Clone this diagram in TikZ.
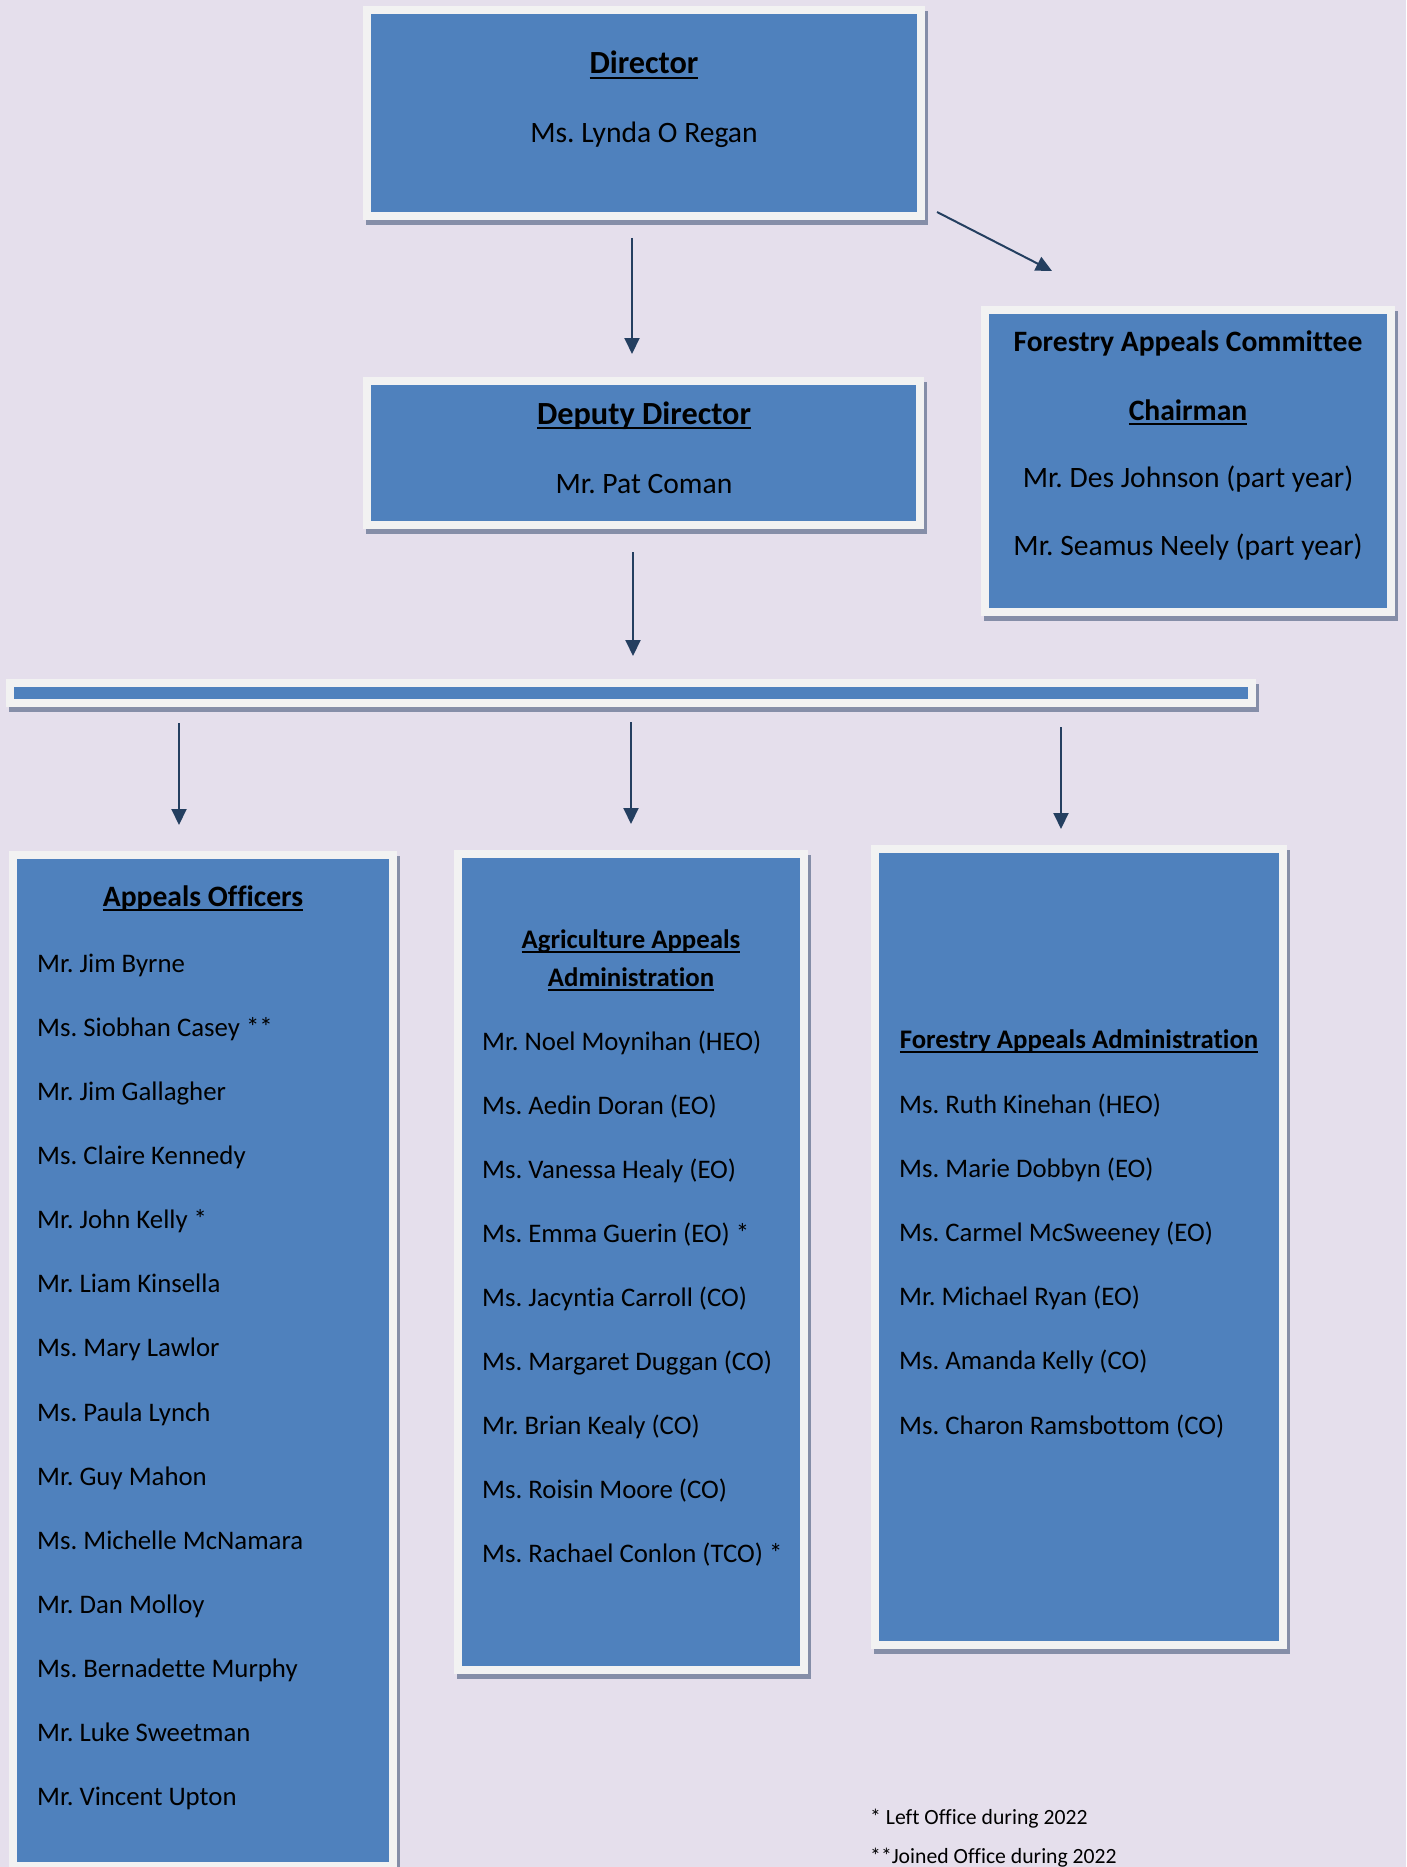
\documentclass[tikz,border=0pt]{standalone}
\usepackage{fontspec}
\setmainfont{Carlito}[Ligatures=NoCommon]
\usepackage{xcolor}
\definecolor{cPage}{HTML}{E5DFEC}
\definecolor{cBox}{HTML}{4F81BD}
\definecolor{cFrame}{HTML}{F2F2F2}
\definecolor{cShadow}{HTML}{858EA8}
\definecolor{cArrow}{HTML}{243F60}
\usetikzlibrary{positioning,arrows.meta,calc,backgrounds}
\newcommand\ulined[1]{\sbox0{#1}\rlap{\rule[-5pt]{\wd0}{2pt}}\usebox0}
\newcommand\orgfont{\fontsize{29.6}{35}\selectfont\frenchspacing}
\newcommand\toporgfont{\fontsize{32.3}{38}\selectfont\frenchspacing}
\newcommand\listfont{\fontsize{26.8}{32}\selectfont\frenchspacing}
\tikzset{
  org-box/.style={fill=cBox,draw=cFrame,line width=8pt,outer sep=4pt,
    inner sep=0pt,anchor=north west},
  org-head/.style={font=\orgfont\bfseries,anchor=base,inner sep=0pt},
  org-head-top/.style={org-head,font=\toporgfont\bfseries},
  org-head-list/.style={org-head,font=\listfont\bfseries},
  org-text/.style={anchor=base,inner sep=0pt},
  org-name/.style={anchor=base west,inner sep=0pt,font=\listfont},
  org-note/.style={anchor=base west,inner sep=0pt,
    font=\fontsize{21.7}{26}\selectfont\frenchspacing},
  arrow/.style={-{Triangle[length=16pt,width=15pt]},line width=2pt,draw=cArrow},
}

\begin{document}
\begin{tikzpicture}[x=1pt,y=-1pt,font=\orgfont]
  \useasboundingbox (0,0) rectangle (1406,1867);
  \begin{scope}[on background layer]
    \fill[cPage] (0,0) rectangle (1406,1867);
  \end{scope}

  % top row
  \node[org-box,minimum width=554pt,minimum height=206pt] (director) at (363,6) {};
  \node[org-head-top] (director-t) at (644,74) {\ulined{Director}};
  \node[org-text] (director-n) at (644,143) {Ms. Lynda O Regan};

  \node[org-box,minimum width=553pt,minimum height=144pt] (deputy) at (363,377) {};
  \node[org-head-top] (deputy-t) at (644,424) {\ulined{Deputy Director}};
  \node[org-text] (deputy-n) at (644,493) {Mr. Pat Coman};

  \node[org-box,minimum width=406pt,minimum height=302pt] (fac) at (981,306) {};
  \node[org-head] (fac-t) at (1188,352) {Forestry Appeals Committee};
  \node[org-head] (fac-c) at (1188,420) {\ulined{Chairman}};
  \node[org-text] (fac-n1) at (1188,487) {Mr. Des Johnson (part year)};
  \node[org-text] (fac-n2) at (1188,555) {Mr. Seamus Neely (part year)};

  \node[org-box,minimum width=1242pt,minimum height=20pt] (bar) at (6,679) {};

  % bottom row
  \node[org-box,minimum width=380pt,minimum height=1011pt] (ao) at (9,851) {};
  \node[org-head] (ao-t) at (203,906) {\ulined{Appeals Officers}};
  \foreach \who [count=\i from 0] in {Mr. Jim Byrne,Ms. Siobhan Casey **,
      Mr. Jim Gallagher,Ms. Claire Kennedy,Mr. John Kelly *,Mr. Liam Kinsella,
      Ms. Mary Lawlor,Ms. Paula Lynch,Mr. Guy Mahon,Ms. Michelle McNamara,
      Mr. Dan Molloy,Ms. Bernadette Murphy,Mr. Luke Sweetman,Mr. Vincent Upton}
    \node[org-name] (ao-\i) at (37,972+64.15*\i) {\who};

  \node[org-box,minimum width=346pt,minimum height=816pt] (aaa) at (454,850) {};
  \node[org-head-list] (aaa-t1) at (631,948) {\ulined{Agriculture Appeals}};
  \node[org-head-list] (aaa-t2) at (631,986) {\ulined{Administration}};
  \foreach \who [count=\i from 0] in {Mr. Noel Moynihan (HEO),Ms. Aedin Doran (EO),
      Ms. Vanessa Healy (EO),Ms. Emma Guerin (EO) *,Ms. Jacyntia Carroll (CO),
      Ms. Margaret Duggan (CO),Mr. Brian Kealy (CO),Ms. Roisin Moore (CO),
      Ms. Rachael Conlon (TCO) *}
    \node[org-name] (aaa-\i) at (482,1050+64.1*\i) {\who};

  \node[org-box,minimum width=408pt,minimum height=796pt] (faa) at (871,845) {};
  \node[org-head-list] (faa-t) at (1079,1048) {\ulined{Forestry Appeals Administration}};
  \foreach \who [count=\i from 0] in {Ms. Ruth Kinehan (HEO),Ms. Marie Dobbyn (EO),
      Ms. Carmel McSweeney (EO),Mr. Michael Ryan (EO),Ms. Amanda Kelly (CO),
      Ms. Charon Ramsbottom (CO)}
    \node[org-name] (faa-\i) at (899,1113+64.2*\i) {\who};

  \node[org-note] (note1) at (870,1824) {* Left Office during 2022};
  \node[org-note] (note2) at (870,1863) {**Joined Office during 2022};

  % connectors
  \draw[arrow] ($(director.south)+(-12,18)$) -- ($(deputy.north)+(-11.5,-23)$);
  \draw[arrow] ($(director.south east)+(12,-8)$) -- ($(fac.north west)+(71,-35)$);
  \draw[arrow] ($(deputy.south)+(-10.5,23)$) -- ($(bar.north)+(2,-23)$);
  \draw[arrow] ($(bar.south west)+(173,16)$) -- ($(ao.north)+(-24,-26)$);
  \draw[arrow] ($(bar.south)+(0,15)$) -- ($(aaa.north)+(0,-26)$);
  \draw[arrow] ($(bar.south east)+(-195,20)$) -- ($(faa.north)+(-18,-16)$);

  % shadows
  \begin{scope}[on background layer]
    \foreach \b in {director,deputy,fac,bar,ao,aaa,faa}
      \fill[cShadow] ($(\b.south west)+(3,5)$) rectangle ($(\b.north east)+(3,5)$);
  \end{scope}
\end{tikzpicture}
\end{document}
